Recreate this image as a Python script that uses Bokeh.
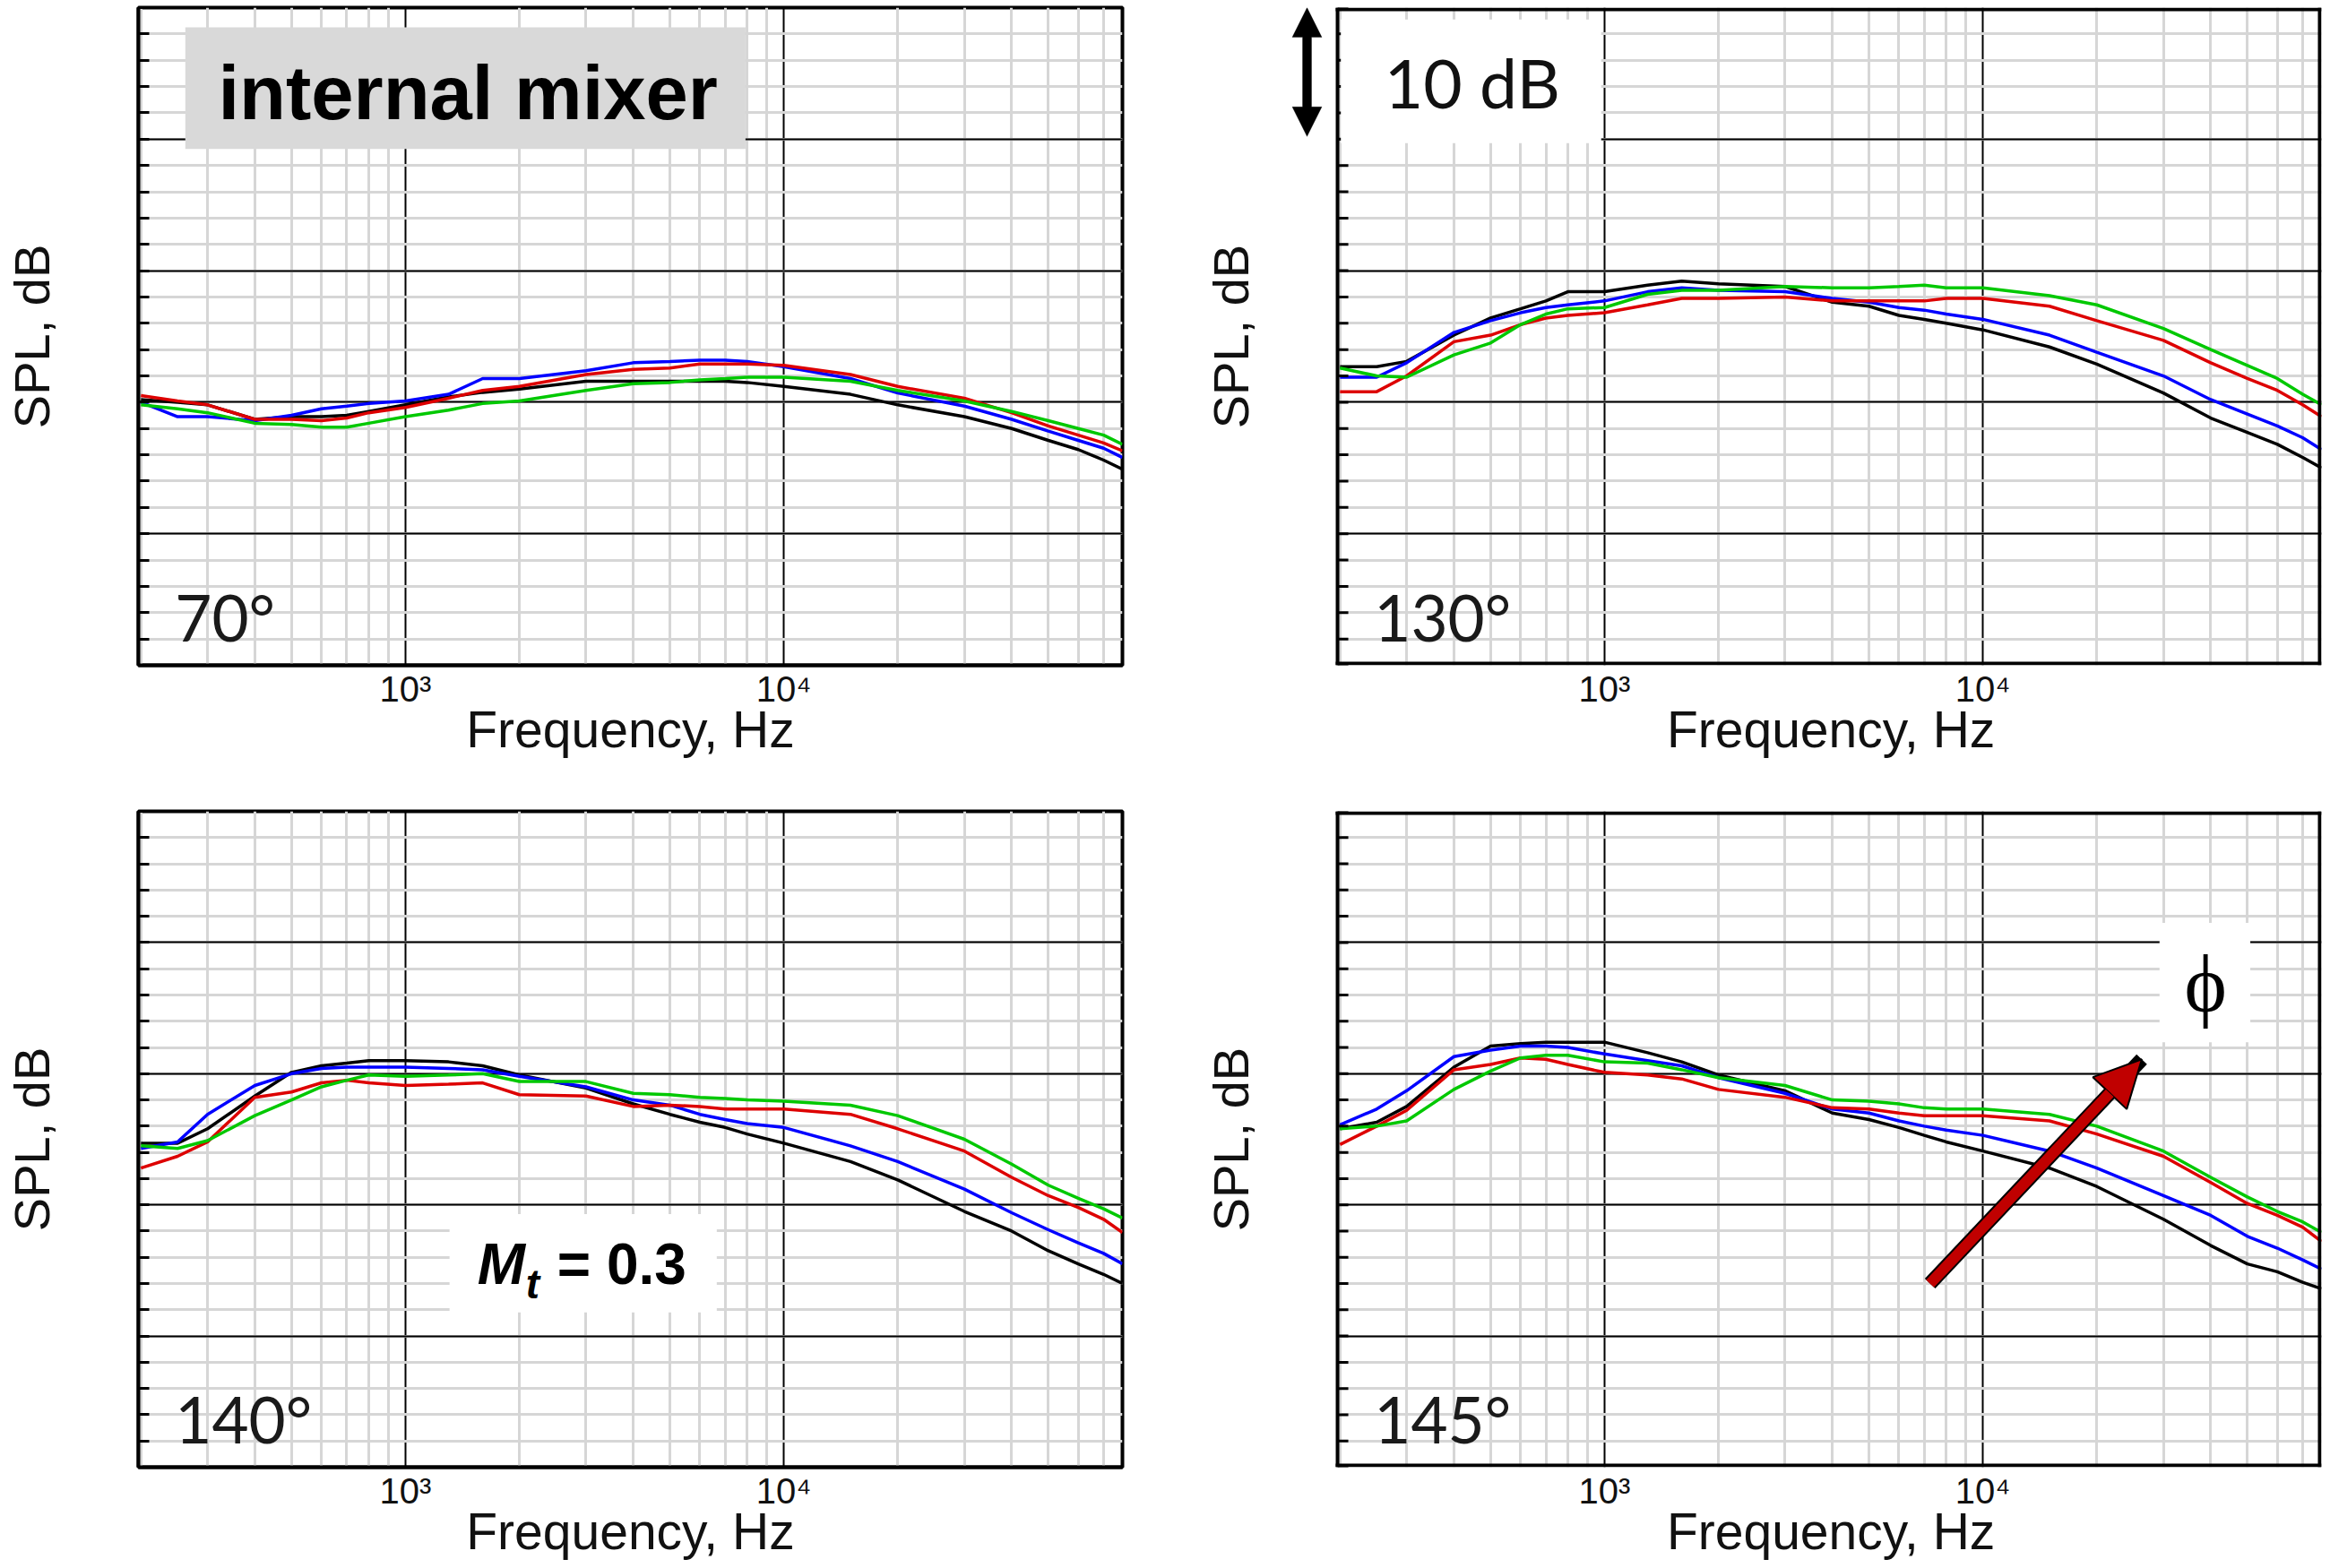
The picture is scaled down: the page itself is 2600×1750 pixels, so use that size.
from bokeh.plotting import figure
from bokeh.layouts import gridplot
from bokeh.models import (Range1d, FixedTicker, Label, BoxAnnotation, Arrow, NormalHead,
                          PolyAnnotation)
from bokeh.embed import file_html
from bokeh.resources import INLINE

# ---------------- data ----------------
freq = [200, 250, 300, 400, 500, 600, 700, 800, 1000, 1300, 1600, 2000, 3000, 4000,
        5000, 6000, 7000, 8000, 10000, 15000, 20000, 30000, 40000, 50000, 60000, 70000, 78500]

# 70 deg
a70_black = [60.2, 60.0, 59.8, 58.7, 58.9, 58.9, 59.0, 59.3, 59.8, 60.4, 60.75, 61.0, 61.6, 61.6,
             61.6, 61.6, 61.6, 61.5, 61.2, 60.6, 59.8, 58.9, 58.0, 57.1, 56.4, 55.6, 54.9]
a70_blue = [60.0, 58.9, 58.9, 58.6, 59.0, 59.5, 59.7, 59.9, 60.1, 60.6, 61.8, 61.8, 62.4, 63.0,
            63.1, 63.2, 63.2, 63.1, 62.7, 61.8, 60.7, 59.7, 58.7, 57.8, 57.1, 56.5, 55.8]
a70_red = [60.5, 60.1, 59.8, 58.7, 58.7, 58.6, 58.8, 59.2, 59.6, 60.3, 60.9, 61.2, 62.1, 62.5,
           62.6, 62.9, 62.9, 62.9, 62.8, 62.1, 61.2, 60.3, 59.2, 58.2, 57.5, 56.9, 56.3]
a70_green = [59.8, 59.5, 59.2, 58.4, 58.3, 58.1, 58.1, 58.4, 58.9, 59.4, 59.9, 60.1, 60.9, 61.4,
             61.5, 61.7, 61.8, 61.9, 61.9, 61.6, 60.9, 60.1, 59.3, 58.6, 58.0, 57.5, 56.8]

# 130 deg
a130_black = [62.7, 62.7, 63.1, 65.1, 66.4, 67.1, 67.7, 68.4, 68.4, 68.9, 69.2, 69.0, 68.8, 67.6,
              67.3, 66.6, 66.3, 66.0, 65.5, 64.2, 62.9, 60.7, 58.8, 57.7, 56.8, 55.8, 55.0]
a130_blue = [61.9, 61.9, 63.0, 65.3, 66.2, 66.8, 67.2, 67.4, 67.7, 68.4, 68.7, 68.5, 68.4, 67.9,
             67.6, 67.2, 67.0, 66.7, 66.3, 65.1, 63.8, 62.0, 60.2, 59.1, 58.2, 57.3, 56.4]
a130_red = [60.8, 60.8, 62.0, 64.6, 65.1, 65.9, 66.4, 66.6, 66.8, 67.4, 67.9, 67.9, 68.0, 67.7,
            67.7, 67.7, 67.7, 67.9, 67.9, 67.3, 66.2, 64.7, 63.0, 61.8, 60.9, 59.8, 58.9]
a130_green = [62.6, 62.0, 61.9, 63.6, 64.5, 65.9, 66.7, 67.1, 67.2, 68.2, 68.5, 68.5, 68.8, 68.7,
              68.7, 68.8, 68.9, 68.7, 68.7, 68.1, 67.4, 65.6, 64.0, 62.8, 61.8, 60.6, 59.8]

# 140 deg
a140_black = [64.7, 64.7, 65.8, 68.3, 70.1, 70.6, 70.8, 71.0, 71.0, 70.9, 70.6, 69.9, 68.9, 67.7,
              66.9, 66.3, 65.9, 65.4, 64.7, 63.3, 61.9, 59.5, 58.0, 56.5, 55.5, 54.7, 54.0]
a140_blue = [64.3, 64.8, 66.9, 69.1, 70.0, 70.4, 70.5, 70.5, 70.5, 70.4, 70.3, 69.8, 69.0, 68.0,
             67.6, 66.9, 66.5, 66.2, 65.9, 64.5, 63.3, 61.2, 59.4, 58.1, 57.1, 56.3, 55.5]
a140_red = [62.8, 63.7, 64.8, 68.2, 68.6, 69.3, 69.5, 69.3, 69.1, 69.2, 69.3, 68.4, 68.3, 67.5,
            67.6, 67.5, 67.3, 67.3, 67.3, 66.9, 65.8, 64.1, 62.1, 60.7, 59.8, 58.9, 57.9]
a140_green = [64.5, 64.3, 64.9, 66.8, 68.0, 69.0, 69.5, 69.9, 69.8, 69.9, 70.0, 69.4, 69.4, 68.5,
              68.4, 68.2, 68.1, 68.0, 67.9, 67.6, 66.8, 65.0, 63.1, 61.5, 60.5, 59.7, 59.0]

# 145 deg
a145_black = [65.8, 66.3, 67.5, 70.5, 72.1, 72.3, 72.4, 72.4, 72.4, 71.6, 70.9, 69.9, 68.7, 67.0,
              66.5, 65.9, 65.3, 64.8, 64.1, 62.8, 61.4, 58.9, 56.9, 55.5, 54.9, 54.1, 53.6]
a145_blue = [66.1, 67.3, 68.7, 71.3, 71.8, 72.1, 72.1, 72.0, 71.5, 71.0, 70.6, 69.7, 68.5, 67.3,
             67.0, 66.4, 66.0, 65.7, 65.3, 64.1, 62.8, 60.7, 59.2, 57.6, 56.7, 55.8, 55.1]
a145_red = [64.6, 66.0, 67.2, 70.3, 70.7, 71.2, 71.1, 70.7, 70.1, 69.9, 69.6, 68.8, 68.2, 67.4,
            67.3, 67.0, 66.8, 66.8, 66.8, 66.4, 65.4, 63.7, 61.7, 60.1, 59.2, 58.3, 57.2]
a145_green = [65.8, 66.0, 66.4, 68.8, 70.2, 71.2, 71.4, 71.4, 70.9, 70.8, 70.3, 69.7, 69.1, 68.0,
              67.9, 67.7, 67.4, 67.3, 67.3, 66.9, 66.0, 64.1, 62.1, 60.6, 59.5, 58.7, 57.9]

angle_labels = ["70°", "130°", "140°", "145°"]
series_colors = ["#000000", "#0000ff", "#dd0000", "#00c800"]
x_major = [1000, 10000]
x_major_labels = ["10³", "10⁴"]
x_minor = [200, 300, 400, 500, 600, 700, 800, 900,
           2000, 3000, 4000, 5000, 6000, 7000, 8000, 9000,
           20000, 30000, 40000, 50000, 60000, 70000]
y_major = [40, 50, 60, 70, 80, 90]
y_minor = list(range(40, 91, 2))

panels = [
    [a70_black, a70_blue, a70_red, a70_green],
    [a130_black, a130_blue, a130_red, a130_green],
    [a140_black, a140_blue, a140_red, a140_green],
    [a145_black, a145_blue, a145_red, a145_green],
]

SANS = "Liberation Sans"
CAL = "Lato"
F_LO, F_HI = 197, 78500          # visible frequency span of every panel
DECADE_PX = 422.0                # pixels per decade on the x axis
NBSP = "\u00a0"


def px_shift(f, px):
    return f * 10 ** (px / DECADE_PX)


def make_panel(series, angle, width, height, bl, br, bt, bb, extended=False):
    # "extended" panels have a 60 px wider frame on the left, blanked out, so that
    # the 10 dB scale arrow can be drawn left of the visible panel border.
    x_lo = px_shift(F_LO, -60) if extended else F_LO
    p = figure(width=width, height=height, x_axis_type="log",
               x_range=Range1d(x_lo, F_HI), y_range=Range1d(40, 90),
               output_backend="svg", toolbar_location=None,
               min_border_left=bl, min_border_right=br,
               min_border_top=bt, min_border_bottom=bb)
    p.background_fill_color = "white"
    p.border_fill_color = "white"
    if extended:
        p.outline_line_color = None
    else:
        p.outline_line_color = "black"
        p.outline_line_width = 4

    xt = FixedTicker(ticks=x_major, minor_ticks=x_minor)
    p.xaxis.ticker = xt
    p.xgrid.ticker = xt
    p.yaxis.ticker = FixedTicker(ticks=[], minor_ticks=y_minor)
    p.ygrid.ticker = FixedTicker(ticks=y_major, minor_ticks=y_minor)

    for g in (p.xgrid, p.ygrid):
        g.grid_line_color = "black"
        g.grid_line_width = 2
        g.minor_grid_line_color = "#d6d6d6"
        g.minor_grid_line_width = 3
    if extended:
        p.ygrid.cross_bounds = (F_LO, F_HI)

    # x axis
    xa = p.xaxis[0]
    xa.axis_line_width = 4
    xa.axis_line_color = None if extended else "black"
    xa.major_tick_in = 0
    xa.major_tick_out = 0
    xa.minor_tick_in = 0
    xa.minor_tick_out = 0
    xa.major_label_overrides = {x_major[i]: x_major_labels[i] for i in range(len(x_major))}
    xa.major_label_text_font = SANS
    xa.major_label_text_font_size = "40px"
    xa.major_label_text_color = "#111111"
    xa.major_label_standoff = 4
    xa.axis_label = (NBSP * 4 if extended else "") + "Frequency, Hz"
    xa.axis_label_text_font = SANS
    xa.axis_label_text_font_size = "57px"
    xa.axis_label_text_font_style = "normal"
    xa.axis_label_text_color = "#111111"
    xa.axis_label_standoff = -12

    # y axis (only minor ticks -> no tick labels)
    ya = p.yaxis[0]
    ya.axis_line_width = 4
    ya.axis_line_color = None if extended else "black"
    ya.major_tick_in = 0
    ya.major_tick_out = 0
    ya.minor_tick_in = 0 if extended else 12
    ya.minor_tick_out = 0
    ya.minor_tick_line_width = 3
    ya.major_label_standoff = 0
    ya.axis_label = "SPL, dB"
    ya.axis_label_text_font = SANS
    ya.axis_label_text_font_size = "56px"
    ya.axis_label_text_font_style = "normal"
    ya.axis_label_text_color = "#111111"
    ya.axis_label_standoff = 28 if extended else 88

    for ys, c in zip(series, series_colors):
        p.line(freq, ys, line_color=c, line_width=3.5)

    if extended:
        # blank strip, panel border and inward y ticks at the visible left edge
        p.add_layout(BoxAnnotation(right=F_LO, fill_color="white", fill_alpha=1.0,
                                   line_color=None))
        edge_l, edge_r = px_shift(F_LO, -2), px_shift(F_LO, 2)
        for kw in (dict(left=edge_l, right=edge_r),
                   dict(left=edge_l, bottom=89.73),
                   dict(left=edge_l, top=40.27),
                   dict(left=px_shift(F_HI, -4))):
            p.add_layout(BoxAnnotation(fill_color="black", fill_alpha=1.0,
                                       line_color=None, **kw))
        p.segment(x0=[F_LO] * len(y_minor), y0=y_minor,
                  x1=[px_shift(F_LO, 12)] * len(y_minor), y1=y_minor,
                  line_color="black", line_width=3)

    p.add_layout(Label(x=246, y=43.7, text=angle, text_font=CAL, text_font_size="71px",
                       text_color="#1a1a1a", text_baseline="alphabetic"))
    return p


W1, W2 = 1300, 1294
H1, H2 = 854, 895

p1 = make_panel(panels[0], angle_labels[0], W1, H1, 154, 48, 8, 112)
p2 = make_panel(panels[1], angle_labels[1], W2, H1, 132, 4, 8, 112, extended=True)
p3 = make_panel(panels[2], angle_labels[2], W1, H2, 154, 48, 51, 112)
p4 = make_panel(panels[3], angle_labels[3], W2, H2, 132, 4, 51, 112, extended=True)

# --- TL: "internal mixer"
p1.add_layout(BoxAnnotation(left=262, right=7920, bottom=79.25, top=88.5,
                            fill_color="#d9d9d9", fill_alpha=1.0, line_color=None))
p1.add_layout(Label(x=320, y=83.55, text="internal mixer", text_font=SANS,
                    text_font_style="bold", text_font_size="85px", text_color="black",
                    text_baseline="alphabetic"))

# --- TR: 10 dB scale
p2.add_layout(BoxAnnotation(left=201, right=980, bottom=79.7, top=89.1,
                            fill_color="white", fill_alpha=1.0, line_color=None))
p2.add_layout(Label(x=262, y=84.3, text="10 dB", text_font=CAL, text_font_size="75px",
                    text_color="#111111", text_baseline="alphabetic"))
ac = px_shift(F_LO, -34)
p2.add_layout(PolyAnnotation(
    xs=[ac, px_shift(ac, 16.5), px_shift(ac, 5), px_shift(ac, 5), px_shift(ac, 16.5),
        ac, px_shift(ac, -16.5), px_shift(ac, -5), px_shift(ac, -5), px_shift(ac, -16.5)],
    ys=[90.0, 87.75, 87.75, 82.45, 82.45, 80.2, 82.45, 82.45, 87.75, 87.75],
    fill_color="black", fill_alpha=1.0, line_color="black", line_width=1))

# --- BL: Mt = 0.3
p3.add_layout(BoxAnnotation(left=1308, right=6650, bottom=51.8, top=59.3,
                            fill_color="white", fill_alpha=1.0, line_color=None))
p3.add_layout(Label(x=1550, y=55.45, text="M", text_font=SANS, text_font_style="bold italic",
                    text_font_size="64px", text_color="black", text_baseline="alphabetic"))
p3.add_layout(Label(x=2080, y=53.95, text="t", text_font=SANS, text_font_style="bold italic",
                    text_font_size="46px", text_color="black", text_baseline="alphabetic"))
p3.add_layout(Label(x=2518, y=55.45, text="= 0.3", text_font=SANS, text_font_style="bold",
                    text_font_size="64px", text_color="black", text_baseline="alphabetic"))

# --- BR: phi and arrow
p4.add_layout(BoxAnnotation(left=29300, right=50900, bottom=72.4, top=81.5,
                            fill_color="white", fill_alpha=1.0, line_color=None))
p4.add_layout(Label(x=38800, y=76.8, text="ϕ", text_font="Liberation Serif",
                    text_font_size="90px", text_color="black",
                    text_align="center", text_baseline="middle"))
p4.add_layout(Arrow(x_start=7250, y_start=54.0, x_end=26300, y_end=71.1,
                    line_color="black", line_width=16, end=None))
p4.add_layout(Arrow(x_start=7250, y_start=54.0, x_end=26300, y_end=71.1,
                    line_color="#c00000", line_width=12,
                    end=NormalHead(size=52, fill_color="#c00000", line_color="black",
                                   line_width=2)))

grid = gridplot([[p1, p2], [p3, p4]], toolbar_location=None)

open("out.html", "w").write(file_html(grid, INLINE))
